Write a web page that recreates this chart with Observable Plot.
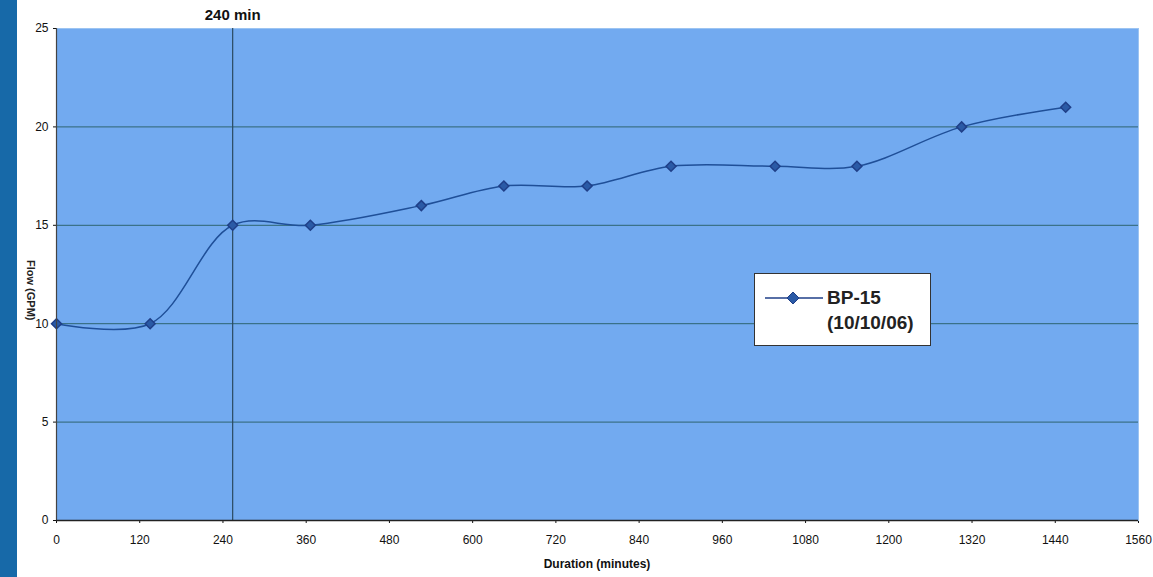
<!DOCTYPE html>
<html><head><meta charset="utf-8">
<script src="https://cdn.jsdelivr.net/npm/d3@7"></script>
<script src="https://cdn.jsdelivr.net/npm/@observablehq/plot@0.6"></script>
<style>
body{margin:0;background:#fff;font-family:Arial,"Liberation Sans",sans-serif;}
#wrap{position:relative;width:1153px;height:577px;overflow:hidden;}
#strip{position:absolute;left:0;top:0;width:17px;height:577px;background:#1769a8;z-index:2;}
#ylab{position:absolute;left:25px;top:260px;writing-mode:vertical-rl;font-size:11px;font-weight:bold;color:#222;z-index:1;}
#legend{position:absolute;left:754px;top:273px;width:177px;height:73px;background:#fff;border:1.5px solid #333;box-sizing:border-box;z-index:3;}
#legend svg{position:absolute;left:10px;top:14px;}
#legend .t{position:absolute;left:72px;top:11px;font-size:19px;font-weight:bold;color:#222;line-height:25px;}
#xlab{position:absolute;left:0;width:1194px;top:557px;text-align:center;font-size:12px;font-weight:bold;color:#111;}
</style></head>
<body><div id="wrap">
<div id="strip"></div>
<div id="ylab">Flow (GPM)</div>
<div id="chart"></div>
<div id="legend"><svg width="60" height="20"><line x1="0" y1="10" x2="58" y2="10" stroke="#1f3f88" stroke-width="1.5"/><path d="M22,10 L28,4 L34,10 L28,16 Z" fill="#2a5aa6" stroke="#1f3f88"/></svg><div class="t">BP-15<br>(10/10/06)</div></div>
<div id="xlab">Duration (minutes)</div>
</div>
<script>
const minutes = [0, 135, 254, 366, 526, 645, 765, 886, 1036, 1154, 1305, 1455];
const flow = [10, 10, 15, 15, 16, 17, 17, 18, 18, 18, 20, 21];
const xTicks = [0,120,240,360,480,600,720,840,960,1080,1200,1320,1440,1560];
const yTicks = [0,5,10,15,20,25];
const gridY = [5,10,15,20];
const markerX = [254];
const markerLabel = ["240 min"];

const data = minutes.map((m,i)=>({m, f: flow[i]}));

const chart = Plot.plot({
  width: 1153, height: 577,
  marginLeft: 56, marginRight: 15, marginTop: 28, marginBottom: 57,
  style: {fontFamily: "Arial, 'Liberation Sans', sans-serif", fontSize: "12px", color: "#111", background: "transparent"},
  x: {domain: [0,1560], ticks: xTicks, tickFormat: d3.format("d"), tickSize: 3, tickPadding: 12, label: null},
  y: {domain: [0,25], ticks: yTicks, tickFormat: d3.format("d"), tickSize: 3, tickPadding: 5, label: null},
  marks: [
    Plot.frame({fill: "#72aaf0", stroke: "#9cc4f2"}),
    Plot.ruleY(gridY, {stroke: "#2e6470", strokeWidth: 1}),
    Plot.ruleX(markerX, {stroke: "#2a4a60", strokeWidth: 1.2}),
    Plot.text(markerLabel, {x: markerX, y: [25], dy: -13, text: d=>d, fontSize: 15, fontWeight: "bold", fill: "#111"}),
    Plot.line(data, {x: "m", y: "f", curve: "catmull-rom", stroke: "#1f4f98", strokeWidth: 1.5}),
    Plot.dot(data, {x: "m", y: "f", symbol: "diamond2", r: 4.5, fill: "#2a5aa6", stroke: "#1f3f88"}),
    Plot.ruleX([0], {stroke: "#444", strokeWidth: 1.2}),
    Plot.ruleY([0], {stroke: "#222", strokeWidth: 1.5})
  ]
});
document.getElementById("chart").appendChild(chart);
</script>
</body></html>
